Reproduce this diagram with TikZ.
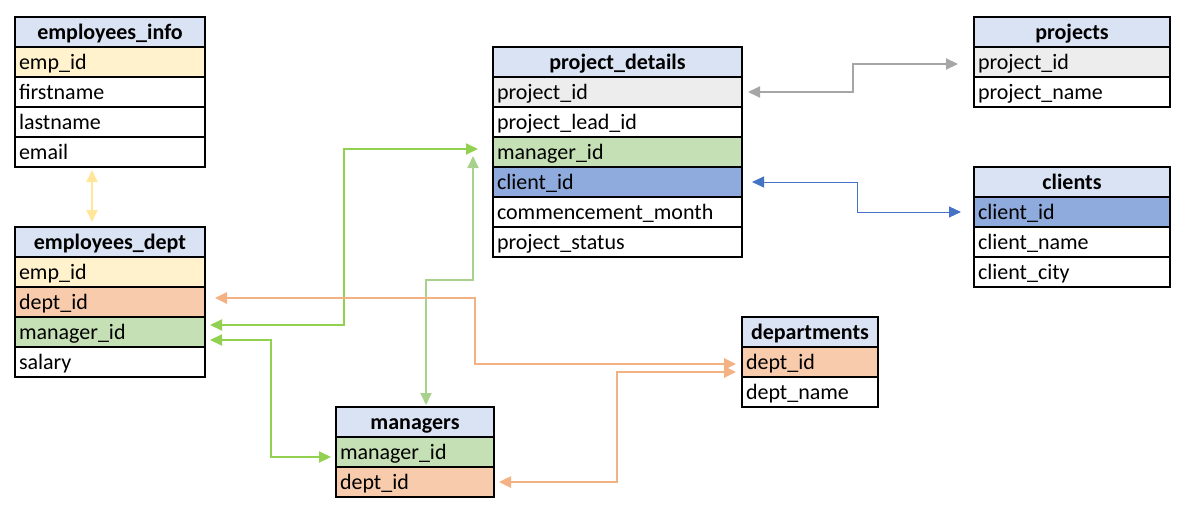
\documentclass[tikz,border=0pt]{standalone}
\usepackage{fontspec}
\setmainfont{Carlito}
\usepackage{tikz}
\usetikzlibrary{arrows.meta, positioning}
\definecolor{headblue}{HTML}{DAE3F3}
\definecolor{keyyellow}{HTML}{FFF2CC}
\definecolor{keyorange}{HTML}{F8CBAD}
\definecolor{keygreen}{HTML}{C5E0B4}
\definecolor{keyblue}{HTML}{8FAADC}
\definecolor{keygray}{HTML}{EDEDED}
\definecolor{linkyellow}{HTML}{FFE699}
\definecolor{linkgray}{HTML}{A6A6A6}
\definecolor{linkblue}{HTML}{4472C4}
\definecolor{linkgreen}{HTML}{92D050}
\definecolor{linklightgreen}{HTML}{A9D18E}
\definecolor{linkorange}{HTML}{F4B183}

\tikzset{
  cell/.style={draw, line width=2pt, minimum height=30pt, inner xsep=4pt, inner ysep=0pt,
    text height=18pt, text depth=3pt,
    outer sep=0pt, align=left, anchor=north west, font=\fontsize{22}{26}\selectfont},
  headcell/.style={cell, fill=headblue, align=center, font=\fontsize{22}{26}\selectfont\bfseries},
  link/.style={line width=2pt, {Triangle[length=12pt, width=11pt]}-{Triangle[length=12pt, width=11pt]}},
}

\begin{document}
\begin{tikzpicture}[x=1pt, y=-1pt]
    \useasboundingbox (0,0) rectangle (1185,511);

    % employees_info
    \node[headcell, text width=182pt] (ei-h) at (15,17) {employees\_info};
    \node[cell, text width=182pt, fill=keyyellow, below=0pt of ei-h] (ei-emp) {emp\_id};
    \node[cell, text width=182pt, below=0pt of ei-emp] (ei-first) {firstname};
    \node[cell, text width=182pt, below=0pt of ei-first] (ei-last) {lastname};
    \node[cell, text width=182pt, below=0pt of ei-last] (ei-mail) {email};

    % employees_dept
    \node[headcell, text width=182pt] (ed-h) at (15,227) {employees\_dept};
    \node[cell, text width=182pt, fill=keyyellow, below=0pt of ed-h] (ed-emp) {emp\_id};
    \node[cell, text width=182pt, fill=keyorange, below=0pt of ed-emp] (ed-dept) {dept\_id};
    \node[cell, text width=182pt, fill=keygreen, below=0pt of ed-dept] (ed-mgr) {manager\_id};
    \node[cell, text width=182pt, below=0pt of ed-mgr] (ed-sal) {salary};

    % project_details
    \node[headcell, text width=241pt] (pd-h) at (493,47) {project\_details};
    \node[cell, text width=241pt, fill=keygray, below=0pt of pd-h] (pd-pid) {project\_id};
    \node[cell, text width=241pt, below=0pt of pd-pid] (pd-lead) {project\_lead\_id};
    \node[cell, text width=241pt, fill=keygreen, below=0pt of pd-lead] (pd-mgr) {manager\_id};
    \node[cell, text width=241pt, fill=keyblue, below=0pt of pd-mgr] (pd-cid) {client\_id};
    \node[cell, text width=241pt, below=0pt of pd-cid] (pd-month) {commencement\_month};
    \node[cell, text width=241pt, below=0pt of pd-month] (pd-status) {project\_status};

    % projects
    \node[headcell, text width=188pt] (pr-h) at (974,17) {projects};
    \node[cell, text width=188pt, fill=keygray, below=0pt of pr-h] (pr-pid) {project\_id};
    \node[cell, text width=188pt, below=0pt of pr-pid] (pr-name) {project\_name};

    % clients
    \node[headcell, text width=188pt] (cl-h) at (974,167) {clients};
    \node[cell, text width=188pt, fill=keyblue, below=0pt of cl-h] (cl-cid) {client\_id};
    \node[cell, text width=188pt, below=0pt of cl-cid] (cl-name) {client\_name};
    \node[cell, text width=188pt, below=0pt of cl-name] (cl-city) {client\_city};

    % managers
    \node[headcell, text width=150pt] (mg-h) at (336,407) {managers};
    \node[cell, text width=150pt, fill=keygreen, below=0pt of mg-h] (mg-mgr) {manager\_id};
    \node[cell, text width=150pt, fill=keyorange, below=0pt of mg-mgr] (mg-dept) {dept\_id};

    % departments
    \node[headcell, text width=128pt] (dp-h) at (742,317) {departments};
    \node[cell, text width=128pt, fill=keyorange, below=0pt of dp-h] (dp-did) {dept\_id};
    \node[cell, text width=128pt, below=0pt of dp-did] (dp-name) {dept\_name};

    % links between the tables
    \draw[link, linkyellow] ([xshift=-18pt, yshift=-3pt]ei-mail.south) -- ([xshift=-18pt, yshift=5pt]ed-h.north);
    \draw[link, linkgray] ([xshift=6pt]pd-pid.east) -- ++(105,0) |- ([xshift=-16pt, yshift=-2pt]pr-pid.west);
    \draw[link, linkblue, line width=1pt] ([xshift=10pt]pd-cid.east) -- ++(105,0) |- ([xshift=-13pt]cl-cid.west);
    \draw[link, linkgreen] ([xshift=5pt, yshift=7pt]ed-mgr.east) -- ++(134,0) |- ([xshift=-15pt, yshift=3pt]pd-mgr.west);
    \draw[link, linkgreen] ([xshift=5pt, yshift=-8pt]ed-mgr.east) -- ++(61,0) |- ([xshift=-5pt, yshift=-5pt]mg-mgr.west);
    \draw[link, linklightgreen] ([xshift=11pt, yshift=2pt]mg-h.north) -- ++(0,-125) -| ([xshift=-20pt, yshift=-4pt]pd-mgr.west);
    \draw[link, linkorange, line width=2.5pt] ([xshift=10pt, yshift=4pt]ed-dept.east) -- ++(260,0) |- ([xshift=-6pt, yshift=-2pt]dp-did.west);
    \draw[link, linkorange, line width=2.5pt] ([xshift=5pt]mg-dept.east) -- ++(118,0) |- ([xshift=-6pt, yshift=-10pt]dp-did.west);
\end{tikzpicture}
\end{document}
